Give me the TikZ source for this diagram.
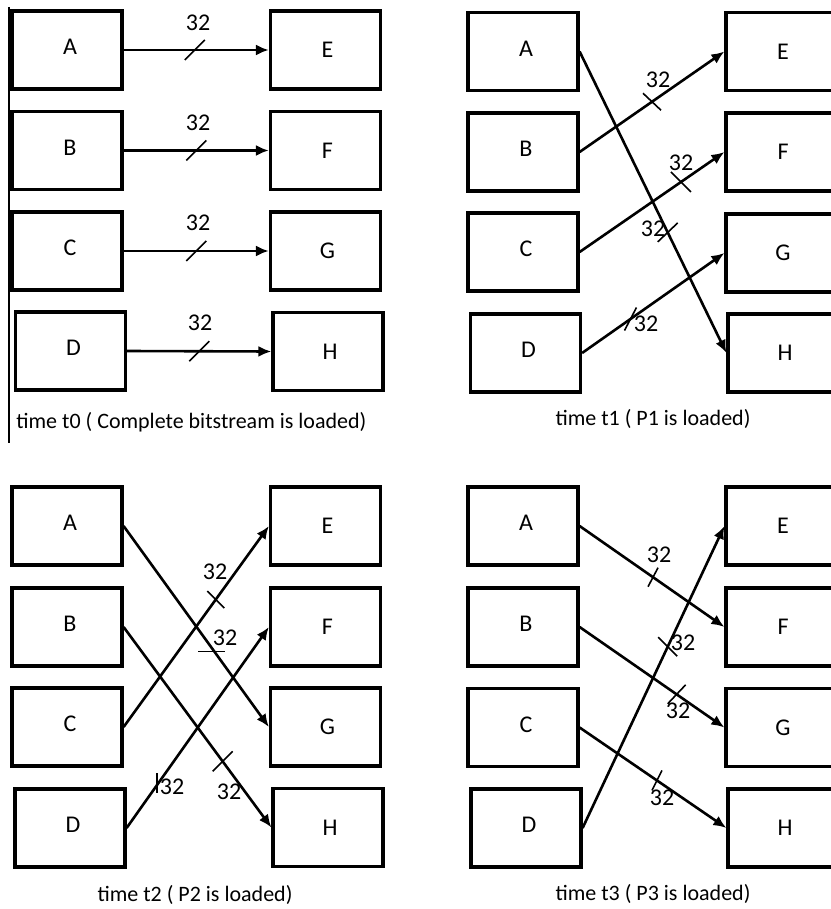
\documentclass[tikz,border=0pt]{standalone}
\usepackage{fontspec}
\setmainfont{Carlito}
\usetikzlibrary{arrows.meta,calc}
\newcommand\llab[1]{\raisebox{3pt}{\hspace*{3pt}#1}}
\newcommand\rlab[1]{\raisebox{-1.5pt}{\hspace*{2pt}#1}}
\begin{document}
\begin{tikzpicture}[x=0.5pt,y=-0.5pt,
  box/.style={draw, line width=1.6pt, minimum width=55pt, minimum height=39pt, inner sep=0pt, font=\fontsize{12}{14}\selectfont},
  arr/.style={line width=1.3pt, -{Latex[length=6.5pt,width=5.5pt]}},
  slash/.style={line width=0.8pt},
  num/.style={font=\fontsize{12}{14}\selectfont, inner sep=0pt},
  captext/.style={font=\fontsize{11}{13}\selectfont, inner sep=0pt}]
\useasboundingbox (0,0) rectangle (830,909);
% left separator line
\coordinate (vtop) at (9,7);
\coordinate (vbot) at (9,443);
\draw[line width=0.7pt] (vtop) -- (vbot);

% ---------- panel t0 ----------
\node[box] (A1) at (67,50) {\llab{A}};
\node[box] (B1) at (67,150.5) {\llab{B}};
\node[box] (C1) at (67,251) {\llab{C}};
\node[box] (D1) at (70.5,351) {\llab{D}};
\node[box] (E1) at (325.5,50) {\rlab{E}};
\node[box] (F1) at (325.5,150.5) {\rlab{F}};
\node[box] (G1) at (325.5,251) {\rlab{G}};
\node[box] (H1) at (328,351.5) {\rlab{H}};
\draw[arr] (A1.east) -- coordinate[pos=0.49] (s1a) (E1.west);
\draw[arr] (B1.east) -- coordinate[pos=0.50] (s1b) (F1.west);
\draw[arr] (C1.east) -- coordinate[pos=0.50] (s1c) (G1.west);
\draw[arr] (D1.east) -- coordinate[pos=0.50] (s1d) (H1.west);
\foreach \s in {s1a,s1b,s1c,s1d}
  \draw[slash] ($(\s)+(-10,10)$) -- ($(\s)+(10,-10)$);
\node[num] (n1a) at (198,23) {32};
\node[num] (n1b) at (198,123) {32};
\node[num] (n1c) at (198,223) {32};
\node[num] (n1d) at (200,323) {32};
\node[captext, anchor=west] (c1) at (16,422) {time t0 ( Complete bitstream is loaded)};

% ---------- panel t1 ----------
\node[box] (A2) at (523,51.5) {\llab{A}};
\node[box] (B2) at (523,152) {\llab{B}};
\node[box] (C2) at (523,252) {\llab{C}};
\node[box] (D2) at (525.5,353) {\llab{D}};
\node[box] (E2) at (781,51.5) {\rlab{E}};
\node[box] (F2) at (781,152) {\rlab{F}};
\node[box] (G2) at (781,253) {\rlab{G}};
\node[box] (H2) at (783,353) {\rlab{H}};
\draw[arr] (A2.east) -- coordinate[pos=0.6] (s2a) (H2.west);
\draw[arr] (B2.east) -- coordinate[pos=0.5] (s2b) (E2.west);
\draw[arr] (C2.east) -- coordinate[pos=0.70] (s2c) (F2.west);
\draw[arr] (D2.east) -- coordinate[pos=0.34] (s2d) (G2.west);
\draw[slash] ($(s2a)+(-10,9.5)$) -- ($(s2a)+(10,-9.5)$);
\draw[slash] ($(s2b)+(-9,-8.5)$) -- ($(s2b)+(9,8.5)$);
\draw[slash] ($(s2c)+(-10,-10)$) -- ($(s2c)+(10,10)$);
\draw[slash] ($(s2d)+(-6,11.5)$) -- ($(s2d)+(6,-11.5)$);
\node[num] (n2a) at (653,229) {32};
\node[num] (n2b) at (658,80) {32};
\node[num] (n2c) at (681,163) {32};
\node[num] (n2d) at (646,324) {32};
\node[captext] (c2) at (653,419) {time t1 ( P1 is loaded)};

% ---------- panel t2 ----------
\node[box] (A3) at (67,526) {\llab{A}};
\node[box] (B3) at (67,627) {\llab{B}};
\node[box] (C3) at (67,727) {\llab{C}};
\node[box] (D3) at (70,828) {\llab{D}};
\node[box] (E3) at (325.5,526) {\rlab{E}};
\node[box] (F3) at (325.5,627) {\rlab{F}};
\node[box] (G3) at (325.5,727) {\rlab{G}};
\node[box] (H3) at (328,827.5) {\rlab{H}};
\draw[arr] (A3.east) -- coordinate[pos=0.625] (s3a) (G3.west);
\draw[arr] (B3.east) -- coordinate[pos=0.67] (s3b) (H3.west);
\draw[arr] (C3.east) -- coordinate[pos=0.634] (s3c) (E3.west);
\draw[arr] (D3.east) -- coordinate[pos=0.212] (s3d) (F3.west);
\draw[slash] ($(s3a)+(-16,0)$) -- ($(s3a)+(11,0)$);
\draw[slash] ($(s3b)+(-10,10)$) -- ($(s3b)+(10,-10)$);
\draw[slash] ($(s3c)+(-8.5,-8.5)$) -- ($(s3c)+(8.5,8.5)$);
\draw[slash] ($(s3d)+(0,-12)$) -- ($(s3d)+(0,8)$);
\node[num] (n3a) at (225,638) {32};
\node[num] (n3b) at (229,792) {32};
\node[num] (n3c) at (215,572) {32};
\node[num] (n3d) at (172,787) {32};
\node[captext] (c3) at (195,895) {time t2 ( P2 is loaded)};

% ---------- panel t3 ----------
\node[box] (A4) at (523,526) {\llab{A}};
\node[box] (B4) at (523,627) {\llab{B}};
\node[box] (C4) at (523,727.5) {\llab{C}};
\node[box] (D4) at (526,828) {\llab{D}};
\node[box] (E4) at (781,526) {\rlab{E}};
\node[box] (F4) at (781,627) {\rlab{F}};
\node[box] (G4) at (781,727.5) {\rlab{G}};
\node[box] (H4) at (783,828) {\rlab{H}};
\draw[arr] (A4.east) -- coordinate[pos=0.507] (s4a) (F4.west);
\draw[arr] (B4.east) -- coordinate[pos=0.67] (s4b) (G4.west);
\draw[arr] (C4.east) -- coordinate[pos=0.527] (s4c) (H4.west);
\draw[arr] (D4.east) -- coordinate[pos=0.6] (s4d) (E4.west);
\draw[slash] ($(s4a)+(-5,9.5)$) -- ($(s4a)+(5,-9.5)$);
\draw[slash] ($(s4b)+(-9,9.5)$) -- ($(s4b)+(9,-9.5)$);
\draw[slash] ($(s4c)+(-5,10)$) -- ($(s4c)+(5,-10)$);
\draw[slash] ($(s4d)+(-9.5,-9.5)$) -- ($(s4d)+(9.5,9.5)$);
\node[num] (n4a) at (659,555) {32};
\node[num] (n4b) at (678,711) {32};
\node[num] (n4c) at (662,798) {32};
\node[num] (n4d) at (683,643) {32};
\node[captext] (c4) at (653,894) {time t3 ( P3 is loaded)};
\end{tikzpicture}
\end{document}
